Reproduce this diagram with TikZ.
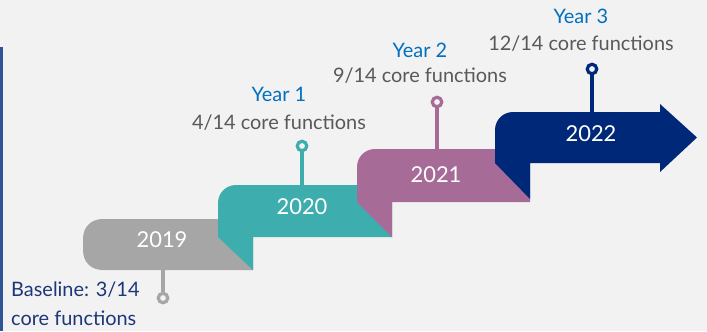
\documentclass[tikz,border=0pt]{standalone}
\usepackage{fontspec}
\setmainfont{Lato}
\usepackage{xcolor}
\usepackage{tikz}
\usetikzlibrary{positioning}

\definecolor{bgcol}{HTML}{F2F2F2}
\definecolor{barblue}{HTML}{2F5597}
\definecolor{greyband}{HTML}{A6A6A6}
\definecolor{tealband}{HTML}{3EADAD}
\definecolor{purpleband}{HTML}{A66B96}
\definecolor{navyband}{HTML}{002878}
\definecolor{yearblue}{HTML}{0070C0}
\definecolor{fngrey}{HTML}{595959}
\definecolor{basenavy}{HTML}{1C3779}

\begin{document}
\begin{tikzpicture}[
    x=1bp, y=-1bp,
    yearlbl/.style={font=\fontsize{22}{26}\selectfont, text=white, inner sep=0pt},
    yrlbl/.style={font=\fontsize{20}{24}\selectfont, text=yearblue, inner sep=0pt},
    fnlbl/.style={font=\fontsize{20}{24}\selectfont, text=fngrey, inner sep=0pt},
    baselbl/.style={font=\fontsize{20}{29}\selectfont, text=basenavy, inner sep=0pt, align=left},
    pinhead/.style={circle, draw, line width=3.2bp, minimum size=9.5bp, inner sep=0pt, fill=bgcol},
    pinline/.style={line width=3.2bp},
]

% ── Canvas ──
\useasboundingbox (0,0) rectangle (707,331);
\fill[bgcol] (0,0) rectangle (707,331);
\fill[barblue] (0,47) rectangle (3,331);

% ── Steps ──
\fill[greyband] (253,219) -- (103,219) .. controls (91,219) and (83,227) .. (83,239)
    -- (83,250) .. controls (83,262) and (91,270) .. (103,270) -- (253,270) -- cycle;
\fill[tealband] (392,185) -- (236,185) .. controls (226,185) and (218,193) .. (218,203)
    -- (218,237) -- (253,270) -- (253,237) -- (392,237) -- cycle;
\fill[purpleband] (530,149) -- (375,149) .. controls (365,149) and (357,157) .. (357,167)
    -- (357,202) -- (392,237) -- (392,202) -- (530,202) -- cycle;
\fill[navyband] (660,112) -- (513,112) .. controls (503,112) and (495,120) .. (495,130)
    -- (495,163) -- (530,199) -- (530,163) -- (660,163) -- (660,172) -- (697,137.5)
    -- (660,104) -- cycle;

% ── Year labels ──
\node[yearlbl] (lbl19) at (162,240) {2019};
\node[yearlbl] (lbl20) at (302,207) {2020};
\node[yearlbl] (lbl21) at (436,175) {2021};
\node[yearlbl] (lbl22) at (591,134) {2022};

% ── Pins ──
\coordinate (foot19) at (163,270);
\coordinate (foot20) at (302,185);
\coordinate (foot21) at (437,149);
\coordinate (foot22) at (592,112);
\node[pinhead, draw=greyband] (pin19) at (163,298) {};
\node[pinhead, draw=tealband] (pin20) at (302,146) {};
\node[pinhead, draw=purpleband] (pin21) at (437,102) {};
\node[pinhead, draw=navyband] (pin22) at (592,69) {};
\draw[pinline, greyband] (pin19) -- (foot19);
\draw[pinline, tealband] (pin20) -- (foot20);
\draw[pinline, purpleband] (pin21) -- (foot21);
\draw[pinline, navyband] (pin22) -- (foot22);

% ── Milestones ──
\node[baselbl, anchor=west] (base19) at (11,304) {Baseline: 3/14\\core functions};
\node[fnlbl] (fn20) at (279,123) {4/14 core functions};
\node[yrlbl, above=13bp of fn20] (yr20) {Year 1};
\node[fnlbl] (fn21) at (420,76) {9/14 core functions};
\node[yrlbl, above=10bp of fn21] (yr21) {Year 2};
\node[fnlbl] (fn22) at (581,44) {12/14 core functions};
\node[yrlbl, above=12bp of fn22] (yr22) {Year 3};

\end{tikzpicture}
\end{document}
